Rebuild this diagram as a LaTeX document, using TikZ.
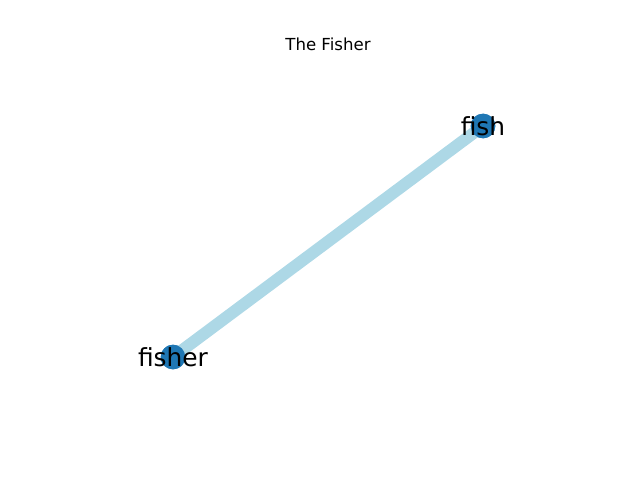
\documentclass[tikz,border=0pt]{standalone}
\usepackage{fontspec}
\setmainfont{DejaVu Sans}
\definecolor{nodeBlue}{HTML}{1F77B4}
\definecolor{edgeBlue}{HTML}{ADD8E6}

\begin{document}
\begin{tikzpicture}[
  vertex/.style={circle,fill=nodeBlue,minimum size=17.5pt,inner sep=0pt},
  vlabel/.style={font=\fontsize{17.7}{20}\selectfont,inner sep=0pt}]
\useasboundingbox (0,0) rectangle (16,12);
\node (fisher) at (4.325,3.075) [vertex] {};
\node (fish) at (12.075,8.85) [vertex] {};
\draw[edgeBlue,line width=8.5pt] (fisher.center)--(fish.center);
\node[vertex] at (fisher) {};
\node[vertex] at (fish) {};
\node[vlabel] at (fisher) {fisher};
\node[vlabel] at (fish) {fish};
\node (title) at (8.2,10.9) [font=\fontsize{11.8}{14}\selectfont] {The Fisher};
\end{tikzpicture}
\end{document}
